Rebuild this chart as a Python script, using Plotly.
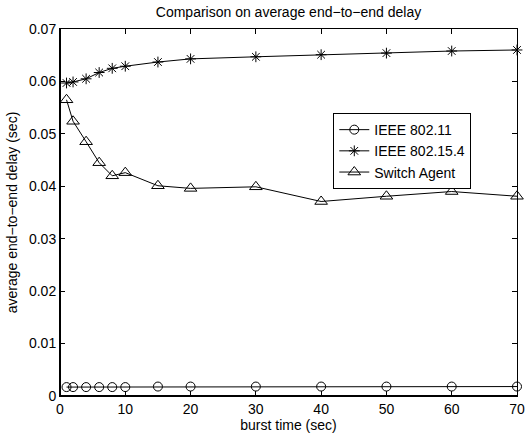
import plotly.graph_objects as go

# burst time (sec)
burst_time = [1, 2, 4, 6, 8, 10, 15, 20, 30, 40, 50, 60, 70]

# average end-to-end delay (sec) per protocol
delay_80211 = [0.0017, 0.0017, 0.0017, 0.0017, 0.0017, 0.0017, 0.0018,
               0.0018, 0.0018, 0.0018, 0.0018, 0.0018, 0.0018]
delay_802154 = [0.0597, 0.0599, 0.0605, 0.0617, 0.0625, 0.0629, 0.0637,
                0.0643, 0.0647, 0.0651, 0.0654, 0.0658, 0.0660]
delay_switch = [0.0565, 0.0524, 0.0485, 0.0445, 0.0420, 0.0426, 0.0401,
                0.0396, 0.0399, 0.0371, 0.0381, 0.0390, 0.0381]

x_ticks = [0, 10, 20, 30, 40, 50, 60, 70]
y_ticks = [0, 0.01, 0.02, 0.03, 0.04, 0.05, 0.06, 0.07]
y_tick_text = ["0", "0.01", "0.02", "0.03", "0.04", "0.05", "0.06", "0.07"]

FONT = "Liberation Sans, Arial, Helvetica, sans-serif"
FS = 14

fig = go.Figure()

series = [
    ("IEEE 802.11", delay_80211, "circle-open", 9),
    ("IEEE 802.15.4", delay_802154, "asterisk-open", 9),
    ("Switch Agent", delay_switch, "triangle-up-open", 11),
]
for name, ys, sym, size in series:
    fig.add_trace(go.Scatter(
        x=burst_time, y=ys, name=name, mode="lines+markers",
        line=dict(color="black", width=1),
        marker=dict(symbol=sym, size=size, color="black",
                    line=dict(color="black", width=1)),
        cliponaxis=False,
    ))

axis_common = dict(
    showgrid=False, zeroline=False, showline=True, linecolor="black",
    linewidth=1, mirror="allticks", ticks="inside", ticklen=5,
    tickcolor="black", tickwidth=1, ticklabeloverflow="allow",
    tickfont=dict(family=FONT, size=FS, color="black"),
)

fig.update_xaxes(
    range=[0, 70], tickvals=x_ticks,
    title=dict(text="burst time (sec)", standoff=4,
               font=dict(family=FONT, size=FS, color="black")),
    **axis_common,
)
fig.update_yaxes(
    range=[0, 0.07], tickvals=y_ticks, ticktext=y_tick_text,
    title=dict(text="average end\u2212to\u2212end delay (sec)", standoff=8,
               font=dict(family=FONT, size=FS, color="black")),
    **axis_common,
)

# heavier left and bottom axis lines
fig.add_shape(type="line", xref="paper", yref="paper", x0=0, x1=0, y0=0, y1=1,
              line=dict(color="black", width=2))
fig.add_shape(type="line", xref="paper", yref="paper", x0=0, x1=1, y0=0, y1=0,
              line=dict(color="black", width=2))

fig.update_layout(
    width=532, height=438,
    margin=dict(l=60, r=7, t=29, b=42),
    paper_bgcolor="white", plot_bgcolor="white",
    font=dict(family=FONT, size=FS, color="black"),
    title=dict(text="Comparison on average end\u2212to\u2212end delay",
               x=0.5, xref="paper", xanchor="center",
               y=1 - 12 / 438, yref="container", yanchor="middle",
               font=dict(family=FONT, size=FS, color="black")),
    legend=dict(x=0.598, y=0.771, xanchor="left", yanchor="top",
                bgcolor="white", bordercolor="black", borderwidth=1,
                font=dict(family=FONT, size=FS, color="black"),
                tracegroupgap=0, itemwidth=30),
    showlegend=True,
)

fig.write_html("out.html")
